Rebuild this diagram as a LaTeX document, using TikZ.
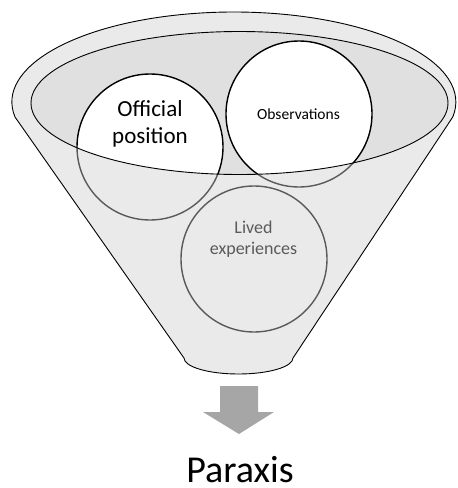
\documentclass[tikz,border=0pt]{standalone}
\usepackage{fontspec}
\setmainfont{Carlito}
\definecolor{mouthgray}{gray}{0.88}
\definecolor{frontgray}{gray}{0.81}
\definecolor{arrowgray}{gray}{0.65}
\begin{document}
\begin{tikzpicture}[x=1pt,y=-1pt,
  bubble/.style={circle, minimum size=146pt, inner sep=0pt, fill=white, draw=black, line width=1.4pt},
  label/.style={align=center, inner sep=0pt, text=black},
  rim/.style={line width=0.9pt, draw=black}]
\useasboundingbox (0,0) rectangle (458,488);

% back wall of the funnel mouth
\fill[mouthgray] (239.5,103) ellipse [x radius=208.5, y radius=71.5];

% the three inputs
\node[bubble] (official) at (150,147) {};
\node[bubble] (observ) at (299,114) {};
\node[bubble] (lived) at (254,259) {};
\node[label, font=\fontsize{23}{27}\selectfont, anchor=base] (officialtxt) at (150,143) {Official\\position};
\node[label, font=\fontsize{15.5}{18}\selectfont] (observtxt) at (298.5,114) {Observations};
\node[label, font=\fontsize{18}{20.5}\selectfont, anchor=base] (livedtxt) at (253.5,254) {Lived\\experiences};

% translucent front surface of the funnel
\fill[frontgray, fill opacity=0.435, even odd rule]
  (15,117) arc [start angle=170.4, end angle=369.6, x radius=222, y radius=90]
  -- (293,358) arc [start angle=0, end angle=180, x radius=54.5, y radius=16]
  -- cycle
  (239.5,103) ellipse [x radius=208.5, y radius=71.5];

% outlines
\draw[rim, line join=round]
  (15,117) arc [start angle=170.4, end angle=369.6, x radius=222, y radius=90]
  -- (293,358) arc [start angle=0, end angle=180, x radius=54.5, y radius=16]
  -- cycle;
\draw[rim] (239.5,103) ellipse [x radius=208.5, y radius=71.5];

% output arrow and result
\fill[arrowgray] (220,386) -- (258,386) -- (258,412) -- (274,412) -- (239,434)
  -- (203,412) -- (220,412) -- cycle;
\node[label, font=\fontsize{38}{42}\selectfont, anchor=base, text depth=0pt] (paraxis) at (240,482) {Paraxis};
\end{tikzpicture}
\end{document}
